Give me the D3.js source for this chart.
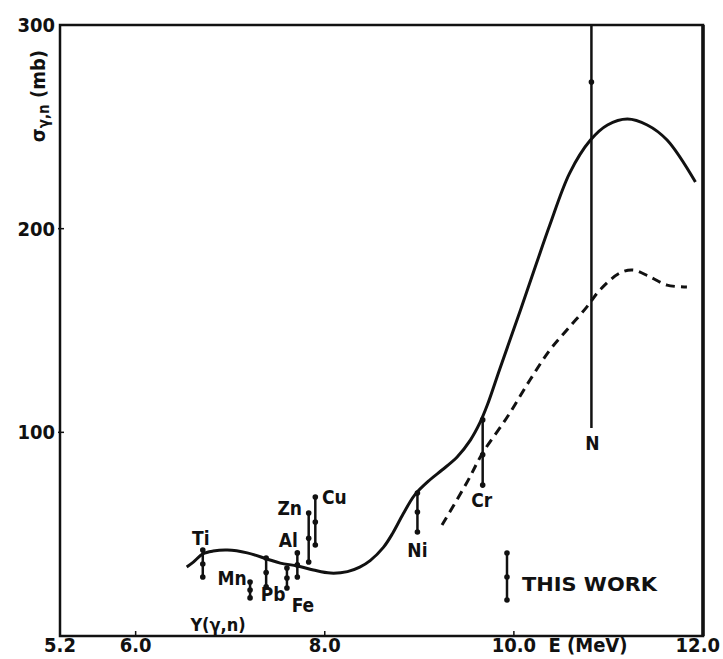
<!DOCTYPE html>
<html>
<head>
<meta charset="utf-8">
<script src="https://cdn.jsdelivr.net/npm/d3@7"></script>
<style>
  body { margin: 0; background: #fff; }
  text { font-family: "DejaVu Sans Condensed", "Liberation Sans Narrow", sans-serif; font-weight: bold; fill: #111; }
</style>
</head>
<body>
<svg id="chart" width="723" height="659"></svg>
<script>
// Solid curve: sigma(gamma,n) in mb vs E (MeV)
const solidE = [6.54, 6.61, 6.71, 6.82, 6.97, 7.18, 7.39, 7.53, 7.71, 7.88, 8.06, 8.24, 8.37, 8.48,
  8.62, 8.72, 8.83, 8.95, 9.11, 9.24, 9.40, 9.54, 9.64, 9.72, 9.85, 10.07, 10.24, 10.38,
  10.59, 10.81, 10.99, 11.20, 11.41, 11.62, 11.92];
const solidSigma = [33.9, 36.3, 40.3, 41.7, 42.2, 40.8, 37.8, 35.8, 34.4, 32.4, 30.9, 31.6, 33.8, 37.0,
  43.5, 50.6, 60.0, 69.2, 76.6, 81.5, 87.9, 96.2, 104.6, 113.5, 131.0, 160.1, 183.1, 201.8,
  227.3, 243.5, 250.9, 253.8, 250.9, 243.5, 222.9];

// Dashed curve
const dashedE = [9.24, 9.50, 9.67, 9.93, 10.17, 10.38, 10.56, 10.77, 10.91, 11.12, 11.26, 11.44, 11.62, 11.83];
const dashedSigma = [54.5, 75.1, 89.9, 107.5, 125.7, 140.4, 150.2, 161.5, 169.9, 178.2, 179.7, 176.3, 172.3, 171.3];

// "This work" points
const elements = ["Ti", "Mn", "Pb", "Fe", "Al", "Zn", "Cu", "Ni", "Cr", "N"];
const elemE = [6.71, 7.21, 7.38, 7.60, 7.71, 7.83, 7.90, 8.98, 9.67, 10.82];
const elemLo = [29.0, 18.7, 24.1, 23.6, 29.0, 36.3, 44.7, 51.1, 74.1, 102.1];
const elemMid = [35.3, 22.6, 31.2, 28.5, 34.9, 48.0, 56.0, 60.9, 89.0, 272.0];
const elemHi = [42.2, 26.5, 38.3, 33.4, 40.8, 60.4, 68.2, 70.2, 106.1, 300.0];

// Axis ticks
const xTicks = [5.2, 6.0, 8.0, 10.0, 12.0];
const xTickLabels = ["5.2", "6.0", "8.0", "10.0", "12.0"];
const yTicks = [100, 200, 300];
const yTickLabels = ["100", "200", "300"];

const svg = d3.select("#chart");
const x = d3.scaleLinear().domain([5.2, 12.0]).range([60, 703]);
const y = d3.scaleLinear().domain([0, 300]).range([636, 25]);

// --- frame ---
svg.append("path")
  .attr("d", `M${x(5.2)},${y(300)}H${x(12)}V${y(0)}H${x(5.2)}Z`)
  .attr("fill", "none").attr("stroke", "#111").attr("stroke-width", 2.5);
svg.append("line")
  .attr("x1", x(12)).attr("x2", x(12)).attr("y1", y(300)).attr("y2", y(0))
  .attr("stroke", "#111").attr("stroke-width", 3.5);

// ticks
svg.selectAll(".xtick").data(xTicks.slice(1, -1)).enter().append("line")
  .attr("x1", d => x(d)).attr("x2", d => x(d))
  .attr("y1", y(0)).attr("y2", y(0) - 5)
  .attr("stroke", "#111").attr("stroke-width", 1.5);
svg.selectAll(".ytick").data(yTicks.slice(0, -1)).enter().append("line")
  .attr("x1", x(5.2) - 2).attr("x2", x(5.2) + 4)
  .attr("y1", d => y(d)).attr("y2", d => y(d))
  .attr("stroke", "#111").attr("stroke-width", 1.5);

// tick labels (last one kept inside the page edge)
svg.selectAll(".xlab").data(xTicks).enter().append("text")
  .attr("x", (d, i) => i === xTicks.length - 1 ? 720 : x(d)).attr("y", 652)
  .attr("text-anchor", (d, i) => i === xTicks.length - 1 ? "end" : "middle")
  .attr("font-size", 20)
  .text((d, i) => xTickLabels[i]);
svg.append("text").attr("x", 588).attr("y", 652)
  .attr("text-anchor", "middle").attr("font-size", 20).text("E (MeV)");

svg.selectAll(".ylab").data(yTicks).enter().append("text")
  .attr("x", 55).attr("y", d => y(d) + 7)
  .attr("text-anchor", "end").attr("font-size", 20)
  .text((d, i) => yTickLabels[i]);

// y axis title
const yTitle = svg.append("text")
  .attr("transform", "translate(45,50) rotate(-90)")
  .attr("text-anchor", "end").attr("font-size", 20);
yTitle.append("tspan").text("σ");
yTitle.append("tspan").attr("font-size", 15).attr("dy", 4).text("γ,n");
yTitle.append("tspan").attr("dy", -4).text(" (mb)");

// --- curves ---
const line = d3.line()
  .x(d => x(d[0])).y(d => y(d[1]))
  .curve(d3.curveCatmullRom.alpha(0.5));

svg.append("path")
  .attr("d", line(solidE.map((e, i) => [e, solidSigma[i]])))
  .attr("fill", "none").attr("stroke", "#111").attr("stroke-width", 3);

svg.append("path")
  .attr("d", line(dashedE.map((e, i) => [e, dashedSigma[i]])))
  .attr("fill", "none").attr("stroke", "#111").attr("stroke-width", 3)
  .attr("stroke-dasharray", "9,6");

// --- this work bars ---
const points = elements.map((name, i) => ({
  name, e: elemE[i], lo: elemLo[i], mid: elemMid[i], hi: elemHi[i]
}));

const bars = svg.selectAll(".bar").data(points).enter().append("g").attr("class", "bar");
bars.append("line")
  .attr("x1", d => x(d.e)).attr("x2", d => x(d.e))
  .attr("y1", d => y(d.lo)).attr("y2", d => y(d.hi))
  .attr("stroke", "#111").attr("stroke-width", 2.5);
bars.each(function (d) {
  const g = d3.select(this);
  const vals = d.name === "N" ? [d.mid] : [d.lo, d.mid, d.hi];
  vals.forEach(v => g.append("circle")
    .attr("cx", x(d.e)).attr("cy", y(v)).attr("r", 2.8).attr("fill", "#111"));
});

// label placement relative to bar ends: [end, dx, dy]
const labelPos = {
  Ti: ["hi", -2, -12], Mn: ["hi", -18, -4], Pb: ["lo", 7, 7], Fe: ["lo", 16, 17],
  Al: ["hi", -9, -13], Zn: ["hi", -19, -5], Cu: ["hi", 19, 0], Ni: ["lo", 0, 18],
  Cr: ["lo", -1, 15], N: ["lo", 1, 15]
};
bars.append("text")
  .attr("x", d => x(d.e) + labelPos[d.name][1])
  .attr("y", d => y(d[labelPos[d.name][0]]) + labelPos[d.name][2] + 7)
  .attr("text-anchor", "middle").attr("font-size", 19)
  .text(d => d.name);

svg.append("text").attr("x", 218).attr("y", 631)
  .attr("text-anchor", "middle").attr("font-size", 18).text("Y(γ,n)");

// --- legend ---
const lg = svg.append("g");
lg.append("line").attr("x1", 507).attr("x2", 507).attr("y1", 553).attr("y2", 600)
  .attr("stroke", "#111").attr("stroke-width", 2.5);
[553, 577, 600].forEach(v => lg.append("circle").attr("cx", 507).attr("cy", v).attr("r", 2.8).attr("fill", "#111"));
lg.append("text").attr("x", 522).attr("y", 591).attr("font-size", 19)
  .style("font-family", "'DejaVu Sans', sans-serif")
  .attr("textLength", 135).attr("lengthAdjust", "spacingAndGlyphs").text("THIS WORK");
</script>
</body>
</html>
